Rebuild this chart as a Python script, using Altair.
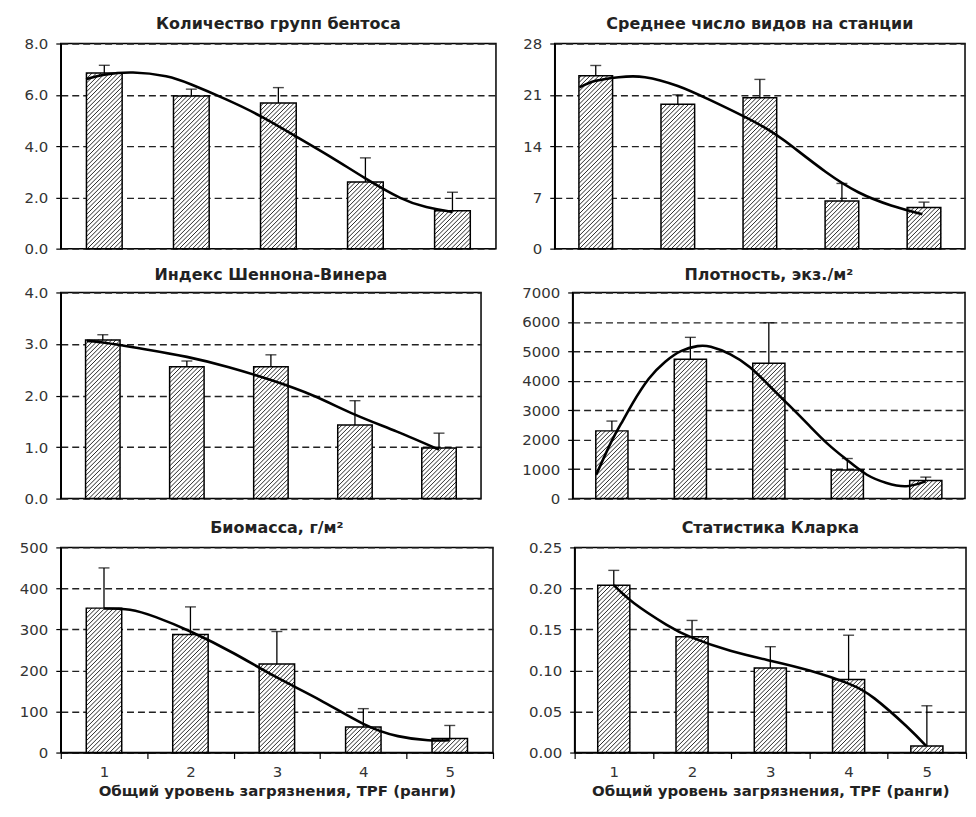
import altair as alt
import pandas as pd
import math

cats = [1, 2, 3, 4, 5]

# Panel 1: Количество групп бентоса
groups_vals = [6.85, 5.95, 5.68, 2.60, 1.48]
groups_errs = [7.15, 6.22, 6.28, 3.54, 2.20]
groups_tx = [0.79, 1.0, 1.33, 1.71, 2.0, 2.4, 2.8, 3.2, 3.6, 4.0, 4.4, 4.7, 5.0]
groups_ty = [6.61, 6.78, 6.87, 6.72, 6.40, 5.82, 5.16, 4.38, 3.58, 2.74, 1.98, 1.62, 1.43]

# Panel 2: Среднее число видов на станции
species_vals = [23.6, 19.7, 20.6, 6.5, 5.6]
species_errs = [25.0, 21.0, 23.1, 8.9, 6.35]
species_tx = [0.8, 1.0, 1.28, 1.6, 2.0, 2.39, 3.0, 3.4, 3.8, 4.2, 4.6, 4.98]
species_ty = [22.0, 22.9, 23.4, 23.4, 22.2, 20.3, 16.9, 13.9, 10.5, 7.7, 5.9, 4.7]

# Panel 3: Индекс Шеннона-Винера
shannon_vals = [3.08, 2.56, 2.56, 1.43, 0.98]
shannon_errs = [3.18, 2.67, 2.79, 1.90, 1.27]
shannon_tx = [0.81, 1.0, 1.5, 2.0, 2.5, 3.0, 3.5, 4.0, 4.5, 5.0]
shannon_ty = [3.06, 3.03, 2.90, 2.75, 2.55, 2.30, 2.00, 1.63, 1.30, 0.95]

# Panel 4: Плотность, экз./м²
density_vals = [2300, 4735, 4600, 973, 619]
density_errs = [2633, 5476, 5973, 1361, 730]
density_tx = [0.80, 1.0, 1.14, 1.26, 1.47, 1.68, 1.88, 2.09, 2.26, 2.51, 2.76, 3.0,
              3.25, 3.5, 3.75, 4.0, 4.25, 4.5, 4.75, 5.0]
density_ty = [810, 1970, 2650, 3220, 4070, 4650, 5010, 5177, 5155, 4900, 4460, 3850,
              3190, 2520, 1860, 1305, 810, 530, 420, 586]

# Panel 5: Биомасса, г/м²
biomass_vals = [352, 288, 216, 62, 34]
biomass_errs = [450, 355, 295, 107, 66]
biomass_tx = [1.0, 1.3, 1.6, 2.0, 2.5, 3.0, 3.5, 4.0, 4.4, 4.75, 5.0]
biomass_ty = [351, 348, 330, 295, 242, 183, 128, 70, 40, 30, 30]

# Panel 6: Статистика Кларка
clarke_vals = [0.204, 0.141, 0.103, 0.089, 0.008]
clarke_errs = [0.222, 0.161, 0.129, 0.143, 0.057]
clarke_tx = [1.0, 1.26, 1.67, 2.0, 2.49, 3.0, 3.5, 4.0, 4.33, 4.74, 4.99]
clarke_ty = [0.204, 0.182, 0.156, 0.140, 0.124, 0.112, 0.100, 0.084, 0.066, 0.032, 0.008]

FONT = "DejaVu Sans"
XTITLE = "Общий уровень загрязнения, TPF (ранги)"
HALF = 0.205  # half bar width, in category units


def hatch_table(vals, W, H, ymax, step=4.4):
    sx = W / 5.0
    sy = H / ymax
    rows = []
    for cat, v in zip(cats, vals):
        px0, px1 = (cat - HALF) * sx, (cat + HALF) * sx
        py0, py1 = 0.0, v * sy
        c = math.floor((py0 - px1) / step) * step
        while c < py1 - px0:
            xa = max(px0, py0 - c)
            xb = min(px1, py1 - c)
            if xb - xa > 0.4:
                rows.append({"hx1": xa / sx, "hy1": (xa + c) / sy,
                             "hx2": xb / sx, "hy2": (xb + c) / sy})
            c += step
    return pd.DataFrame(rows)


def panel(title, vals, errs, tx, ty, ymax, ystep, fmt, W, H, yext, toff, bottom):
    df = pd.DataFrame({"x": cats, "v": vals, "e": errs})
    df["xl"] = df["x"] - HALF
    df["xr"] = df["x"] + HALF
    df["z"] = 0.0
    tdf = pd.DataFrame({"tx": tx, "ty": ty})
    hdf = hatch_table(vals, W, H, ymax)

    n = int(round(ymax / ystep))
    yvals = [round(i * ystep, 6) for i in range(n + 1)]
    xs = alt.Scale(domain=[0.5, 5.5], nice=False, zero=False)
    ys = alt.Scale(domain=[0, ymax], nice=False, zero=True)

    yaxis = alt.Axis(values=yvals, format=fmt, title=None, grid=True,
                     gridDash=[7, 4], gridColor="#222", gridWidth=1.4,
                     tickSize=5, tickColor="black", tickWidth=1.2,
                     domainColor="black", domainWidth=1.5,
                     labelFontSize=15, labelColor="#333", labelPadding=8,
                     labelFont=FONT, minExtent=yext, maxExtent=yext)
    if bottom:
        band = W / 5.0
        xaxis = alt.Axis(values=[0.5, 1.5, 2.5, 3.5, 4.5, 5.5],
                         labelExpr="datum.value < 5 ? format(datum.value + 0.5, 'd') : ''",
                         labelOffset={"condition": {"test": "datum.value < 5", "value": band / 2},
                                      "value": 0},
                         labelFlush=False, labelOverlap=False,
                         tickSize=6, tickColor="black", tickWidth=1.2,
                         domainColor="black", domainWidth=1.5, grid=False,
                         labelFontSize=15, labelColor="#333", labelPadding=6,
                         labelFont=FONT,
                         title=XTITLE, titleFontSize=15, titleFontWeight="bold",
                         titleFont=FONT, titleColor="#222", titlePadding=4)
    else:
        xaxis = None

    def X(f):
        return alt.X(f, scale=xs, axis=xaxis)

    def Y(f):
        return alt.Y(f, scale=ys, axis=yaxis)

    white = alt.Chart(df).mark_bar(fill="white", strokeWidth=0).encode(
        x=X("xl:Q"), x2="xr:Q", y=Y("v:Q"), y2="z:Q")
    hatch = alt.Chart(hdf).mark_rule(color="#111", strokeWidth=0.9).encode(
        x=X("hx1:Q"), x2="hx2:Q", y=Y("hy1:Q"), y2="hy2:Q")
    outline = alt.Chart(df).mark_bar(fillOpacity=0, stroke="black", strokeWidth=1.5).encode(
        x=X("xl:Q"), x2="xr:Q", y=Y("v:Q"), y2="z:Q")
    err = alt.Chart(df).mark_rule(color="black", strokeWidth=1.3).encode(
        x=X("x:Q"), y=Y("v:Q"), y2="e:Q")
    cap = alt.Chart(df).mark_tick(orient="horizontal", size=11, thickness=1.4, color="black").encode(
        x=X("x:Q"), y=Y("e:Q"))
    trend = alt.Chart(tdf).mark_line(color="black", strokeWidth=2.6, interpolate="natural").encode(
        x=X("tx:Q"), y=Y("ty:Q"))

    return alt.layer(white, hatch, outline, err, cap, trend).properties(
        width=W, height=H,
        title=alt.TitleParams(title, fontSize=16, fontWeight="bold", font=FONT,
                              color="#222", anchor="middle", offset=toff))


p1 = panel("Количество групп бентоса", groups_vals, groups_errs, groups_tx, groups_ty,
           8, 2, ".1f", 437, 206, 52, 5, False)
p2 = panel("Среднее число видов на станции", species_vals, species_errs, species_tx, species_ty,
           28, 7, "d", 412, 206, 47, 5, False)
p3 = panel("Индекс Шеннона-Винера", shannon_vals, shannon_errs, shannon_tx, shannon_ty,
           4, 1, ".1f", 422, 207, 52, 3, False)
p4 = panel("Плотность,  экз./м²", density_vals, density_errs, density_tx, density_ty,
           7000, 1000, "d", 394, 207, 80, 3, False)
p5 = panel("Биомасса,  г/м²", biomass_vals, biomass_errs, biomass_tx, biomass_ty,
           500, 100, "d", 434, 206, 52, 4, True)
p6 = panel("Статистика  Кларка", clarke_vals, clarke_errs, clarke_tx, clarke_ty,
           0.25, 0.05, ".2f", 393, 206, 69, 4, True)

row1 = alt.hconcat(p1, p2, spacing=10)
row2 = alt.hconcat(p3, p4, spacing=10)
row3 = alt.hconcat(p5, p6, spacing=10)

chart = alt.vconcat(alt.vconcat(row1, row2, spacing=8), row3, spacing=12).properties(
    padding={"left": 0, "top": 5, "right": 0, "bottom": 0}
).configure(font=FONT, background="white").configure_view(stroke="black", strokeWidth=1.5)

chart.save("out.html", embed_options={"renderer": "svg", "actions": False})
